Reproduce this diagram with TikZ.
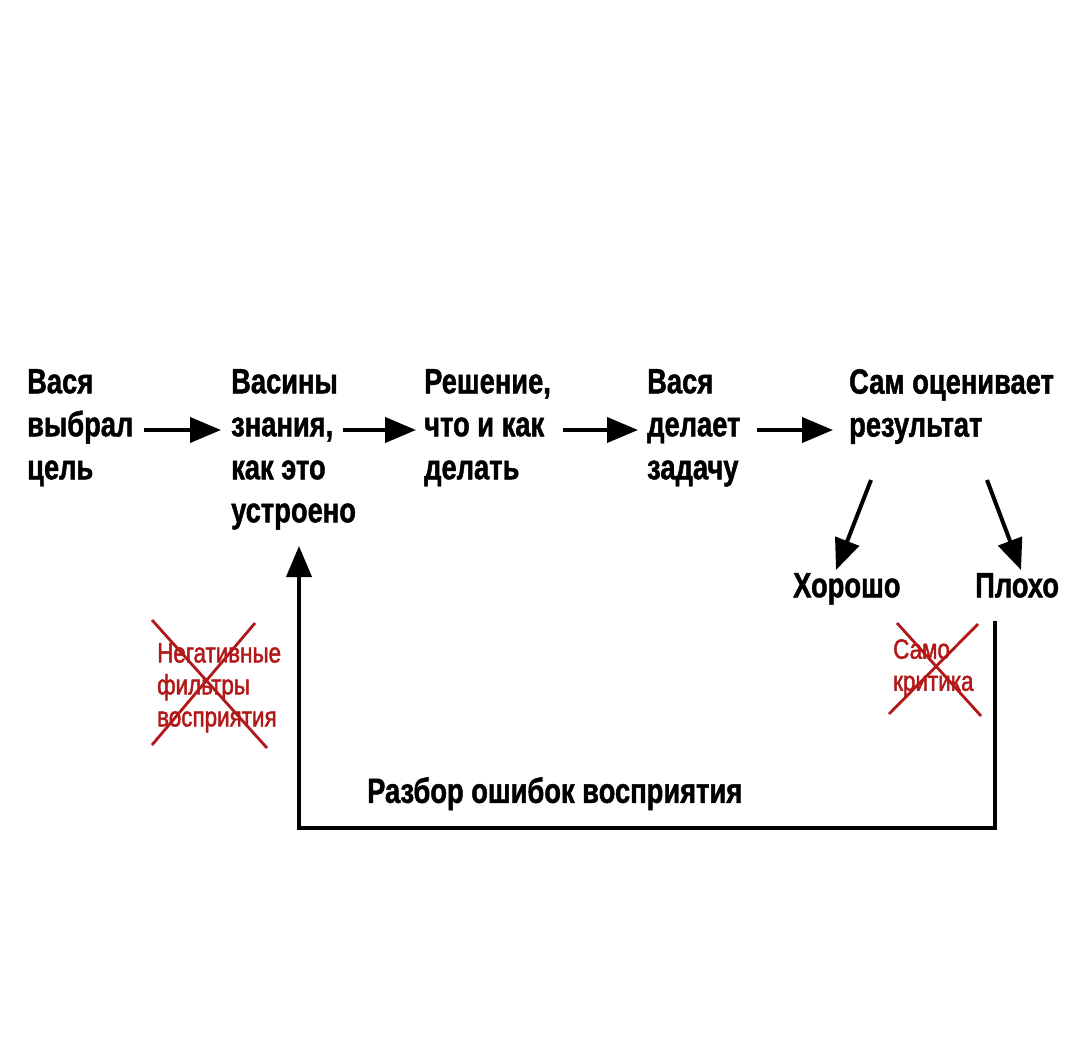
\documentclass[tikz,border=0pt]{standalone}
\usepackage{fontspec}
\setmainfont{Liberation Sans}[FakeStretch=0.78,FakeBold=1.3]
\newfontfamily\redfont{Liberation Sans}[FakeStretch=0.8,FakeBold=1.6]
\usetikzlibrary{arrows.meta,calc}
\definecolor{crossred}{RGB}{178,24,24}
\begin{document}
\begin{tikzpicture}[x=1pt,y=-1pt,
  lbl/.style={anchor=north west,inner sep=0pt,align=left,font=\bfseries\fontsize{35}{43}\selectfont},
  redlbl/.style={anchor=north west,inner sep=0pt,align=left,text=crossred,font=\redfont\fontsize{28}{32}\selectfont},
  arr/.style={line width=4pt,line join=miter,-{Triangle[length=31pt,width=25pt]}},
  crossline/.style={draw=crossred,line width=2.8pt}]
\useasboundingbox (0,0) rectangle (1072,1060);
\fill[white] (0,0) rectangle (1072,1060);

\node[lbl] (n1) at (27,369) {Вася\\выбрал\\цель};
\node[lbl] (n2) at (231,369) {Васины\\знания,\\как это\\устроено};
\node[lbl] (n3) at (424,369) {Решение,\\что и как\\делать};
\node[lbl] (n4) at (647,369) {Вася\\делает\\задачу};
\node[lbl] (n5) at (849,369) {Сам оценивает\\результат};
\node[lbl] (good) at (793,573) {Хорошо};
\node[lbl] (bad) at (975,573) {Плохо};
\node[lbl] (review) at (367,777) {Разбор ошибок восприятия};
\node[redlbl] (neg) at (157,643) {Негативные\\фильтры\\восприятия};
\node[redlbl] (self) at (893,639) {Само\\критика};

\draw[arr] ($(n1.north west)+(117,61)$) -- ($(n2.north west)+(-10,61)$);
\draw[arr] ($(n2.north west)+(112,61)$) -- ($(n3.north west)+(-8,61)$);
\draw[arr] ($(n3.north west)+(139,61)$) -- ($(n4.north west)+(-9,61)$);
\draw[arr] ($(n4.north west)+(110,61)$) -- ($(n5.north west)+(-16,61)$);

\draw[arr] ($(n5.north west)+(22,111)$) -- ($(good.north west)+(43,-3)$);
\draw[arr] ($(n5.north west)+(138,111)$) -- ($(bad.north west)+(46,-3)$);

\coordinate (loopstart) at ($(bad.north west)+(20,48)$);
\coordinate (loopend) at ($(n2.north west)+(68,177)$);
\coordinate (bottom) at (0,828);
\draw[arr] (loopstart) -- (loopstart |- bottom) -| (loopend);

\draw[crossline] ($(neg.north west)+(-5,-23)$) -- ($(neg.north west)+(110,105)$);
\draw[crossline] ($(neg.north west)+(98,-20)$) -- ($(neg.north west)+(-5,102)$);
\draw[crossline] ($(self.north west)+(4,-16)$) -- ($(self.north west)+(88,77)$);
\draw[crossline] ($(self.north west)+(85,-15)$) -- ($(self.north west)+(-4,75)$);
\end{tikzpicture}
\end{document}
